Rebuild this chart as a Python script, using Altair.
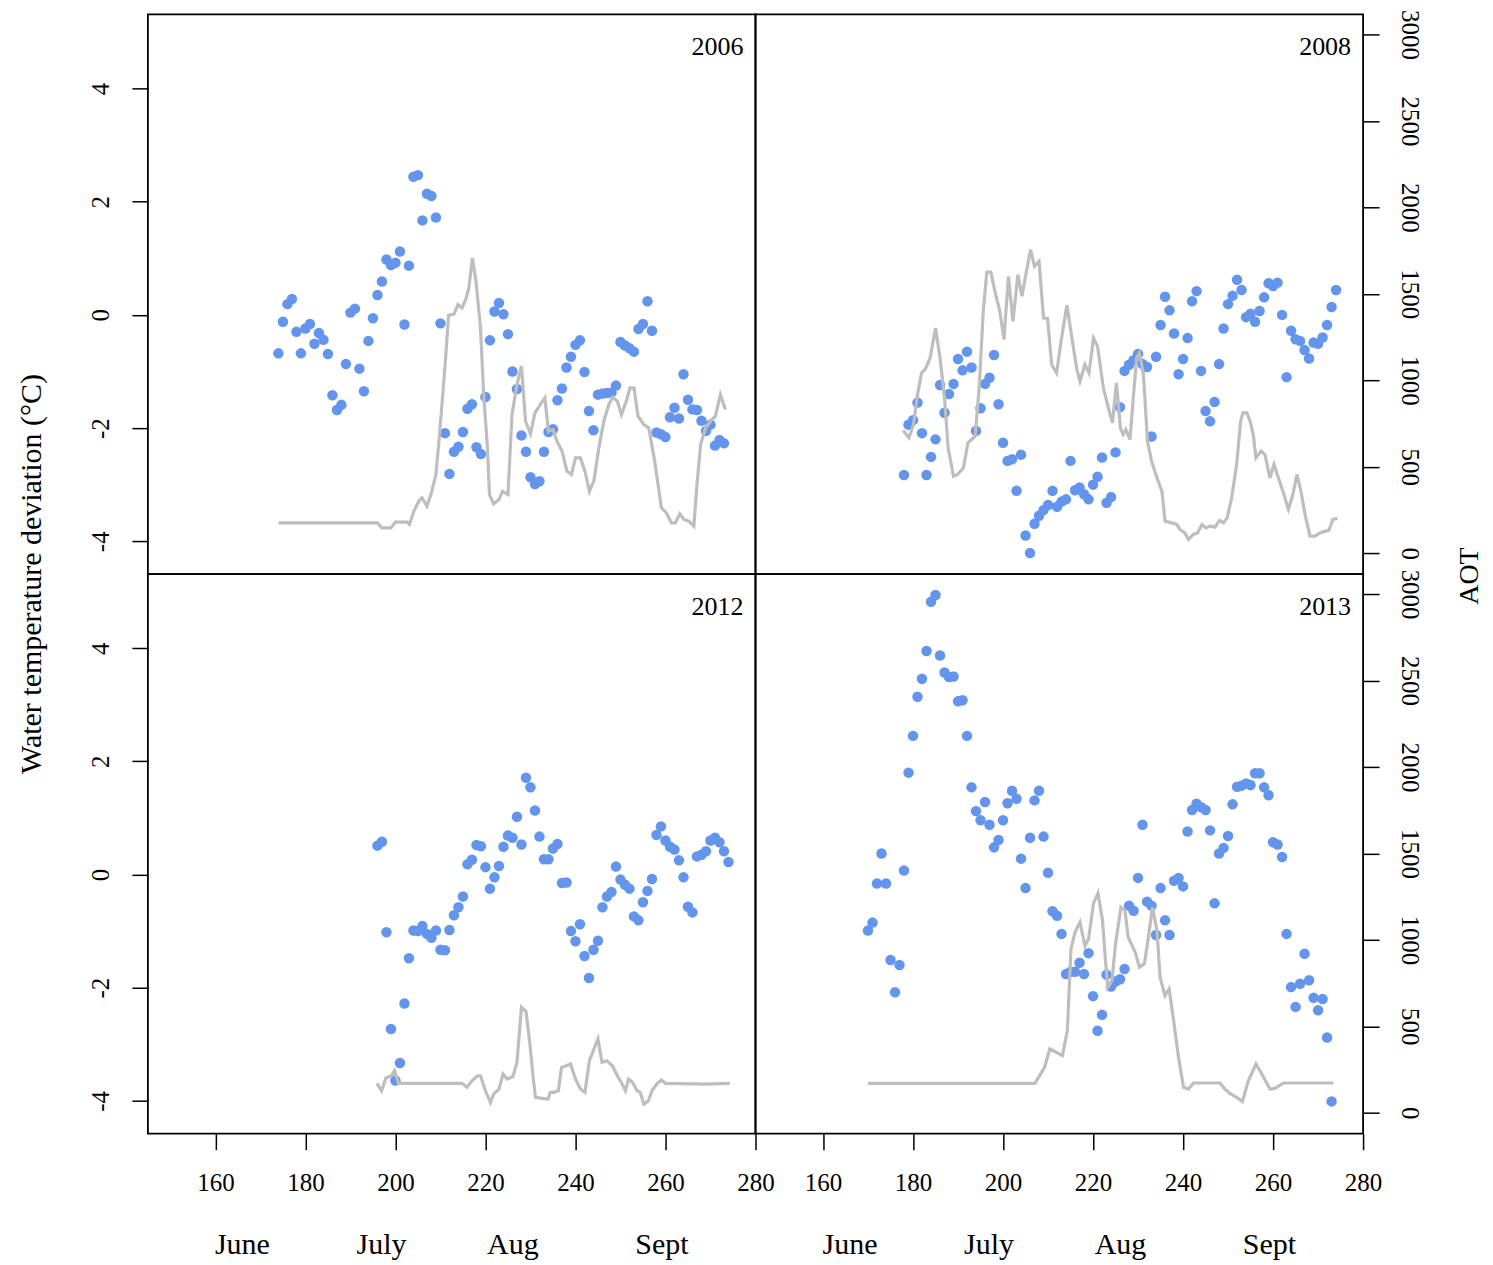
import altair as alt
import pandas as pd

FONT = "Liberation Serif"
W, H = 608, 560
BLUE = "#6495ED"
GREY = "#BEBEBE"

x_ticks = [160, 180, 200, 220, 240, 260, 280]
temp_ticks = [-4, -2, 0, 2, 4]
aot_ticks = [0, 500, 1000, 1500, 2000, 2500, 3000]
months = ["June", "July", "Aug", "Sept"]
month_days = [166, 196.9, 226.1, 259.2]
y_title = "Water temperature deviation (°C)"
aot_title = "AOT"

# (day of year, water temperature deviation)
temp_2006 = [(174, -0.68), (175, -0.12), (176, 0.19), (177, 0.28), (178, -0.30), (179, -0.68), (180, -0.24),
             (181, -0.16), (182, -0.51), (183, -0.32), (184, -0.44), (185, -0.69), (186, -1.42), (187, -1.68),
             (188, -1.59), (189, -0.87), (190, 0.04), (191, 0.11), (192, -0.95), (193, -1.35), (194, -0.46),
             (195, -0.06), (196, 0.35), (197, 0.59), (198, 0.98), (199, 0.88), (200, 0.92), (201, 1.12),
             (202, -0.17), (203, 0.87), (204, 2.44), (205, 2.47), (206, 1.67), (207, 2.14), (208, 2.10),
             (209, 1.72), (210, -0.15), (211, -2.09), (212, -2.81), (213, -2.42), (214, -2.33), (215, -2.07),
             (216, -1.66), (217, -1.58), (218, -2.34), (219, -2.46), (220, -1.45), (221, -0.45), (222, 0.06),
             (223, 0.21), (224, 0.01), (225, -0.34), (226, -1.00), (227, -1.31), (228, -2.13), (229, -2.42),
             (230, -2.87), (231, -2.99), (232, -2.94), (233, -2.42), (234, -2.07), (235, -2.02), (236, -1.51),
             (237, -1.30), (238, -0.93), (239, -0.74), (240, -0.53), (241, -0.45), (242, -1.01), (243, -1.70),
             (244, -2.04), (245, -1.41), (246, -1.39), (247, -1.38), (248, -1.37), (249, -1.25), (250, -0.48),
             (251, -0.54), (252, -0.59), (253, -0.65), (254, -0.25), (255, -0.16), (256, 0.24), (257, -0.28),
             (258, -2.08), (259, -2.11), (260, -2.16), (261, -1.81), (262, -1.64), (263, -1.83), (264, -1.05),
             (265, -1.50), (266, -1.67), (267, -1.68), (268, -1.87), (269, -2.05), (270, -1.94), (271, -2.31),
             (272, -2.21), (273, -2.27)]

temp_2008 = [(178, -2.83), (179, -1.94), (180, -1.86), (181, -1.55), (182, -2.09), (183, -2.83), (184, -2.51),
             (185, -2.20), (186, -1.24), (187, -1.73), (188, -1.40), (189, -1.22), (190, -0.78), (191, -0.98),
             (192, -0.65), (193, -0.93), (194, -2.05), (195, -1.65), (196, -1.22), (197, -1.11), (198, -0.71),
             (199, -1.58), (200, -2.26), (201, -2.58), (202, -2.55), (203, -3.11), (204, -2.47), (205, -3.90),
             (206, -4.21), (207, -3.69), (208, -3.55), (209, -3.45), (210, -3.36), (211, -3.11), (212, -3.39),
             (213, -3.30), (214, -3.26), (215, -2.58), (216, -3.10), (217, -3.05), (218, -3.17), (219, -3.26),
             (220, -3.00), (221, -2.86), (222, -2.52), (223, -3.32), (224, -3.22), (225, -2.43), (226, -1.63),
             (227, -0.99), (228, -0.88), (229, -0.80), (230, -0.69), (231, -0.87), (232, -0.92), (233, -2.15),
             (234, -0.74), (235, -0.18), (236, 0.32), (237, 0.08), (238, -0.33), (239, -1.05), (240, -0.78),
             (241, -0.41), (242, 0.24), (243, 0.42), (244, -0.99), (245, -1.70), (246, -1.88), (247, -1.54),
             (248, -0.87), (249, -0.24), (250, 0.19), (251, 0.34), (252, 0.62), (253, 0.44), (254, -0.04),
             (255, 0.02), (256, -0.12), (257, 0.07), (258, 0.31), (259, 0.56), (260, 0.51), (261, 0.57),
             (262, 0.00), (263, -1.10), (264, -0.28), (265, -0.43), (266, -0.46), (267, -0.62), (268, -0.77),
             (269, -0.49), (270, -0.51), (271, -0.40), (272, -0.18), (273, 0.14), (274, 0.44)]

temp_2012 = [(196, 0.51), (197, 0.58), (198, -1.02), (199, -2.73), (200, -3.64), (201, -3.33), (202, -2.28),
             (203, -1.48), (204, -0.99), (205, -1.00), (206, -0.91), (207, -1.05), (208, -1.12), (209, -0.99),
             (210, -1.33), (211, -1.34), (212, -0.98), (213, -0.72), (214, -0.58), (215, -0.39), (216, 0.18),
             (217, 0.26), (218, 0.52), (219, 0.50), (220, 0.13), (221, -0.25), (222, -0.05), (223, 0.15),
             (224, 0.49), (225, 0.69), (226, 0.65), (227, 1.02), (228, 0.53), (229, 1.71), (230, 1.54),
             (231, 1.13), (232, 0.67), (233, 0.27), (234, 0.27), (235, 0.46), (236, 0.54), (237, -0.15),
             (238, -0.14), (239, -1.00), (240, -1.18), (241, -0.88), (242, -1.44), (243, -1.83), (244, -1.33),
             (245, -1.17), (246, -0.58), (247, -0.39), (248, -0.31), (249, 0.14), (250, -0.09), (251, -0.18),
             (252, -0.25), (253, -0.74), (254, -0.81), (255, -0.49), (256, -0.29), (257, -0.08), (258, 0.70),
             (259, 0.85), (260, 0.60), (261, 0.49), (262, 0.44), (263, 0.25), (264, -0.05), (265, -0.57),
             (266, -0.67), (267, 0.32), (268, 0.35), (269, 0.41), (270, 0.60), (271, 0.65), (272, 0.57),
             (273, 0.41), (274, 0.22)]

temp_2013 = [(170, -0.99), (171, -0.85), (172, -0.16), (173, 0.37), (174, -0.16), (175, -1.51), (176, -2.08),
             (177, -1.60), (178, 0.07), (179, 1.80), (180, 2.45), (181, 3.14), (182, 3.46), (183, 3.95),
             (184, 4.82), (185, 4.94), (186, 3.87), (187, 3.57), (188, 3.49), (189, 3.50), (190, 3.06),
             (191, 3.08), (192, 2.45), (193, 1.54), (194, 1.12), (195, 0.96), (196, 1.28), (197, 0.88),
             (198, 0.48), (199, 0.61), (200, 0.96), (201, 1.26), (202, 1.48), (203, 1.34), (204, 0.28),
             (205, -0.24), (206, 0.65), (207, 1.31), (208, 1.48), (209, 0.67), (210, 0.03), (211, -0.65),
             (212, -0.73), (213, -1.05), (214, -1.76), (215, -1.72), (216, -1.72), (217, -1.56), (218, -1.76),
             (219, -1.39), (220, -2.15), (221, -2.76), (222, -2.48), (223, -1.77), (224, -1.98), (225, -1.89),
             (226, -1.85), (227, -1.67), (228, -0.55), (229, -0.64), (230, -0.06), (231, 0.88), (232, -0.48),
             (233, -0.55), (234, -1.07), (235, -0.24), (236, -0.81), (237, -1.07), (238, -0.11), (239, -0.06),
             (240, -0.21), (241, 0.76), (242, 1.14), (243, 1.25), (244, 1.19), (245, 1.14), (246, 0.78),
             (247, -0.51), (248, 0.37), (249, 0.47), (250, 0.68), (251, 1.24), (252, 1.55), (253, 1.57),
             (254, 1.61), (255, 1.58), (256, 1.79), (257, 1.79), (258, 1.54), (259, 1.40), (260, 0.57),
             (261, 0.53), (262, 0.31), (263, -1.05), (264, -1.99), (265, -2.34), (266, -1.93), (267, -1.40),
             (268, -1.87), (269, -2.18), (270, -2.40), (271, -2.20), (272, -2.88), (273, -4.01)]

# (day of year, AOT)
aot_2006 = [(174, 175), (196, 175), (197, 146), (199, 146), (200, 179), (202.6, 179), (203.1, 166), (204.1, 243),
            (205.2, 300), (205.9, 320), (207, 272), (208.1, 358), (209, 455), (209.6, 628), (210.4, 879),
            (211.1, 1110), (211.8, 1376), (213, 1383), (213.9, 1437), (214.8, 1418), (215.6, 1466), (216.3, 1533),
            (217.1, 1707), (217.9, 1572), (218.9, 1302), (219.6, 917), (220.4, 628), (220.9, 339), (221.8, 285),
            (223, 310), (223.8, 358), (225, 339), (225.9, 802), (227, 975), (228, 1081), (228.9, 763), (230, 690),
            (231, 811), (232.2, 860), (233.2, 898), (234, 705), (235, 715), (235.9, 647), (237, 590), (238.1, 474),
            (239.1, 455), (240, 551), (241.1, 551), (242.1, 474), (243.1, 358), (244.1, 420), (245.2, 609),
            (246.3, 763), (247.4, 860), (248.3, 902), (249.3, 879), (250.2, 802), (251.3, 879), (252.1, 956),
            (253, 956), (253.9, 792), (255.2, 744), (256.3, 724), (257.6, 532), (259.1, 262), (260.2, 233),
            (261.3, 175), (262.2, 175), (263.2, 227), (264.1, 195), (265.2, 185), (266.3, 156), (267, 397),
            (267.8, 628), (268.9, 724), (270, 763), (271.1, 792), (272.2, 917), (273.3, 831)]

aot_2008 = [(177.8, 709), (179.1, 667), (180.1, 744), (181, 917), (181.9, 1042), (182.8, 1067), (183.8, 1129),
            (185, 1302), (186, 1129), (187, 898), (187.8, 609), (189, 445), (189.9, 455), (191.2, 493),
            (192.2, 638), (193, 657), (193.8, 676), (194.7, 955), (195.6, 1399), (196.4, 1626), (197.3, 1626),
            (198.2, 1514), (199.3, 1399), (200.2, 1235), (201.2, 1601), (202.2, 1341), (203.3, 1611),
            (204.2, 1486), (205.2, 1630), (206.1, 1755), (207, 1659), (208, 1688), (209, 1360), (209.9, 1357),
            (210.8, 1091), (211.9, 1042), (213, 1244), (214.2, 1434), (215.3, 1244), (216.4, 1062), (217.1, 994),
            (218.2, 1091), (219.1, 1042), (220.1, 1244), (221, 1197), (222.3, 955), (223.4, 840), (224.3, 753),
            (225.2, 984), (226.1, 720), (226.7, 686), (227.3, 715), (228.2, 657), (229, 917), (229.7, 1129),
            (230.3, 1158), (231.2, 1033), (232.1, 647), (233, 532), (234.2, 435), (235.3, 358), (236, 185),
            (237.5, 175), (238.6, 166), (239.3, 137), (240.4, 117), (241.2, 79), (242.3, 108), (243.2, 117),
            (244.2, 166), (245.1, 146), (246, 156), (247.1, 150), (248.1, 189), (249, 175), (249.8, 204),
            (250.8, 320), (251.9, 513), (252.8, 763), (253.3, 811), (254.2, 811), (254.9, 763), (255.6, 686),
            (256.2, 551), (257.3, 590), (258.2, 570), (259.3, 435), (260.2, 513), (261.2, 435), (262.3, 349),
            (263.4, 253), (264.4, 339), (265.3, 455), (266.2, 358), (267.1, 224), (268.2, 98), (269.3, 98),
            (270.4, 117), (271.6, 127), (272.4, 131), (273.3, 195), (274.3, 200)]

aot_2012 = [(195.9, 170), (196.9, 127), (197.9, 201), (199.1, 214), (199.8, 243), (200.7, 170), (214.8, 170),
            (215.9, 147), (217, 185), (218.2, 214), (218.9, 214), (220, 127), (221.1, 60), (221.8, 108),
            (223, 137), (223.9, 224), (224.8, 195), (226.1, 208), (227, 291), (228, 610), (229, 587),
            (229.8, 417), (230.6, 204), (231.1, 89), (232.2, 85), (233.9, 79), (234.4, 118), (235.2, 118),
            (236.2, 127), (236.9, 262), (238, 272), (238.9, 282), (240, 195), (241.1, 137), (242.1, 118),
            (243.1, 301), (244.1, 369), (245, 427), (245.9, 291), (247, 301), (248.2, 272), (249.3, 214),
            (250.2, 175), (251.1, 127), (251.8, 195), (252.7, 175), (253.7, 127), (254.4, 118), (255.2, 50),
            (256.2, 69), (257, 127), (258.2, 170), (259.1, 189), (260, 170), (268.9, 166), (274.3, 170)]

aot_2013 = [(170, 170), (207.1, 170), (209.2, 261), (210.4, 369), (213.2, 330), (214.3, 477), (215.1, 947),
            (216, 1045), (217.1, 1103), (218.2, 966), (219, 1005), (220.1, 1211), (221.1, 1270), (222.1, 1112),
            (222.7, 899), (223.3, 726), (224.2, 764), (225, 977), (226.2, 1189), (227.1, 1170), (227.8, 1015),
            (228.7, 967), (229.5, 919), (230.3, 841), (231.4, 861), (232.3, 1015), (233.2, 1189), (234.2, 1054),
            (234.9, 783), (236, 677), (236.9, 716), (237.8, 552), (239, 320), (240.1, 147), (241.2, 137),
            (242.3, 172), (248.2, 172), (249.3, 137), (250.4, 112), (251.9, 89), (253.2, 66), (254.5, 185),
            (256.2, 282), (257.5, 224), (259.3, 137), (260.4, 141), (262.3, 172), (273.4, 172)]


def axis_common(**kw):
    base = dict(title=None, grid=False, domain=False, tickSize=16, tickWidth=1.5, tickColor="black",
                labelFont=FONT, labelFontSize=25, labelColor="black", labelOverlap=False, labelFlush=False,
                format="d")
    base.update(kw)
    return alt.Axis(**base)


def panel(year, temps, aots, left, bottom, extras=()):
    xscale = alt.Scale(domain=[145, 280], nice=False, zero=False)
    xaxis = axis_common(values=x_ticks, labelPadding=21) if bottom else None
    xenc = alt.X("day:Q", scale=xscale, axis=xaxis)

    tax = axis_common(orient="left", values=temp_ticks, labelAngle=270, labelAlign="center",
                      labelBaseline="bottom", labelPadding=18,
                      labelExpr="replace(datum.label, '\u2212', '-')") if left else None
    aax = None if left else axis_common(orient="right", values=aot_ticks, labelAngle=90,
                                        labelAlign="center", labelBaseline="bottom", labelPadding=17)

    pts = pd.DataFrame(temps, columns=["day", "temp"])
    ln = pd.DataFrame(aots, columns=["day", "aot"])

    points = alt.Chart(pts).mark_circle(size=110, color=BLUE, opacity=1).encode(
        x=xenc,
        y=alt.Y("temp:Q", scale=alt.Scale(domain=[-4.58, 5.31], nice=False, zero=False), axis=tax),
    )
    line = alt.Chart(ln).mark_line(color=GREY, strokeWidth=3.2).encode(
        x=xenc,
        y=alt.Y("aot:Q", scale=alt.Scale(domain=[-121, 3116], nice=False, zero=False), axis=aax),
    )
    label = alt.Chart(pd.DataFrame({"t": [year]})).mark_text(
        font=FONT, fontSize=26, align="right", baseline="middle", color="black"
    ).encode(x=alt.value(W - 12), y=alt.value(33), text="t:N")

    layers = [points, line, label]
    if bottom:
        mdf = pd.DataFrame({"day": month_days, "m": months})
        layers.append(alt.Chart(mdf).mark_text(
            font=FONT, fontSize=30, align="center", baseline="middle", color="black"
        ).encode(x=xenc, y=alt.value(H + 111), text="m:N"))
    layers.extend(extras)
    return alt.layer(*layers).properties(width=W, height=H).resolve_scale(y="independent")


ytitle = alt.Chart(pd.DataFrame({"t": [y_title]})).mark_text(
    font=FONT, fontSize=30, angle=270, align="center", baseline="middle", color="black"
).encode(x=alt.value(-116), y=alt.value(H), text="t:N")

atitle = alt.Chart(pd.DataFrame({"t": [aot_title]})).mark_text(
    font=FONT, fontSize=28, angle=270, align="center", baseline="middle", color="black"
).encode(x=alt.value(W + 107), y=alt.value(H + 2), text="t:N")

tl = panel("2006", temp_2006, aot_2006, left=True, bottom=False, extras=(ytitle,))
tr = panel("2008", temp_2008, aot_2008, left=False, bottom=False, extras=(atitle,))
bl = panel("2012", temp_2012, aot_2012, left=True, bottom=True)
br = panel("2013", temp_2013, aot_2013, left=False, bottom=True)

chart = alt.concat(tl, tr, bl, br, columns=2, spacing=0, bounds="flush").properties(
    padding={"left": 8, "top": 0, "right": 0, "bottom": 0}
).configure_view(stroke="black", strokeWidth=1.8)

chart.save("out.html", embed_options={"renderer": "svg", "actions": False})
